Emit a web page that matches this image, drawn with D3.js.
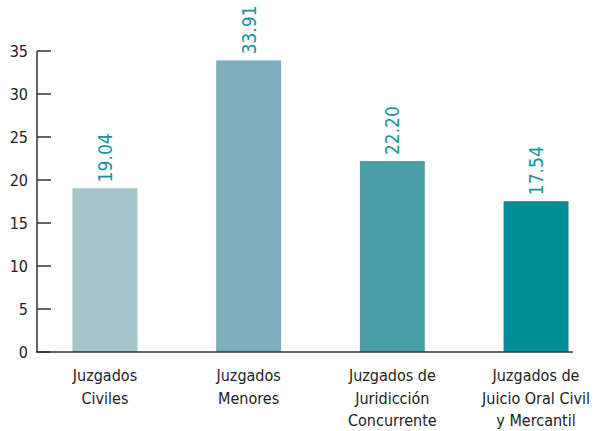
<!DOCTYPE html>
<html lang="es">
<head>
<meta charset="UTF-8">
<title>Juzgados</title>
<style>
  body { margin: 0; background: #fff; }
  svg text { font-family: "Liberation Sans Narrow", "DejaVu Sans Condensed", "Roboto", sans-serif; }
</style>
</head>
<body>
<div id="chart"></div>
<script src="https://d3js.org/d3.v7.min.js"></script>
<script>
// data
var categories = [
  ["Juzgados", "Civiles"],
  ["Juzgados", "Menores"],
  ["Juzgados de", "Juridicción", "Concurrente"],
  ["Juzgados de", "Juicio Oral Civil", "y Mercantil"]
];
var values = [19.04, 33.91, 22.20, 17.54];
var valueLabels = ["19.04", "33.91", "22.20", "17.54"];
var barColors = ["#a5c5cb", "#7aafbb", "#4b9da8", "#008d96"];
var yTicks = [0, 5, 10, 15, 20, 25, 30, 35];

var width = 594, height = 431;

var svg = d3.select("#chart").append("svg")
  .attr("width", width)
  .attr("height", height);

var x = d3.scaleBand()
  .domain(d3.range(values.length))
  .range([37, 604])
  .paddingInner(0.548)
  .paddingOuter(0.247);

var y = d3.scaleLinear()
  .domain([0, 35])
  .range([352, 51]);

// bars
svg.selectAll("rect.bar")
  .data(values)
  .enter().append("rect")
  .attr("class", "bar")
  .attr("x", function(d, i) { return x(i); })
  .attr("width", x.bandwidth())
  .attr("y", function(d) { return y(d); })
  .attr("height", function(d) { return y(0) - y(d); })
  .attr("fill", function(d, i) { return barColors[i]; });

// value labels, rotated
svg.selectAll("text.val")
  .data(values)
  .enter().append("text")
  .attr("class", "val")
  .attr("transform", function(d, i) {
    return "translate(" + (x(i) + x.bandwidth() / 2 + 7) + "," + (y(d) - 6) + ") rotate(-90)";
  })
  .attr("fill", "#16959c")
  .style("font-size", "19px")
  .text(function(d, i) { return valueLabels[i]; });

// y axis
var yAxis = svg.append("g");
yAxis.append("line")
  .attr("x1", 37).attr("x2", 37)
  .attr("y1", y(35)).attr("y2", y(0))
  .attr("stroke", "#333").attr("stroke-width", 1.5);

yAxis.selectAll("line.tick")
  .data(yTicks)
  .enter().append("line")
  .attr("class", "tick")
  .attr("x1", 37).attr("x2", 51)
  .attr("y1", function(d) { return y(d); })
  .attr("y2", function(d) { return y(d); })
  .attr("stroke", "#333").attr("stroke-width", 1.5);

yAxis.selectAll("text")
  .data(yTicks)
  .enter().append("text")
  .attr("x", 28)
  .attr("y", function(d) { return y(d); })
  .attr("dy", "0.35em")
  .attr("text-anchor", "end")
  .attr("fill", "#222")
  .style("font-size", "16px")
  .text(function(d) { return d; });

// baseline
svg.append("line")
  .attr("x1", 36).attr("x2", 573)
  .attr("y1", y(0)).attr("y2", y(0))
  .attr("stroke", "#333").attr("stroke-width", 1.5);

// category labels
var cat = svg.selectAll("text.cat")
  .data(categories)
  .enter().append("text")
  .attr("class", "cat")
  .attr("text-anchor", "middle")
  .attr("fill", "#222")
  .style("font-size", "16px");

cat.selectAll("tspan")
  .data(function(d, i) { return d.map(function(s) { return { s: s, i: i }; }); })
  .enter().append("tspan")
  .attr("x", function(d) { return x(d.i) + x.bandwidth() / 2; })
  .attr("y", function(d, j) { return 381 + j * 22.5; })
  .text(function(d) { return d.s; });
</script>
</body>
</html>
